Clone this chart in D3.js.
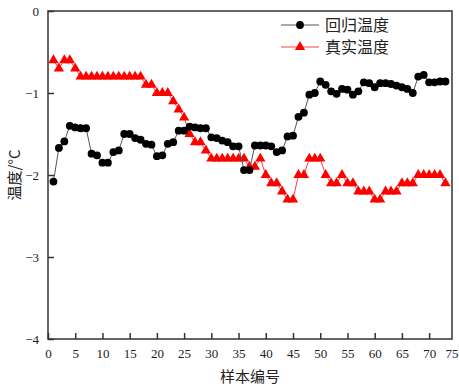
<!DOCTYPE html>
<html>
<head>
  <meta charset="utf-8">
  <title>回归温度与真实温度</title>
  <style>
    body { margin: 0; background: #fff; }
    text { font-family: "Liberation Serif", "Noto Sans CJK SC", serif; }
    .cjk { font-family: "Noto Sans CJK SC", sans-serif; }
  </style>
  <script src="https://d3js.org/d3.v7.min.js"></script>
</head>
<body>
  <div id="chart"></div>
  <script>
    // sample numbers 1..73
    const samples = d3.range(1, 74);
    // regression temperature (black circles)
    const regTemp = [
      -2.08, -1.67, -1.59, -1.40, -1.42, -1.43, -1.43, -1.74, -1.76, -1.85,
      -1.85, -1.72, -1.70, -1.50, -1.50, -1.55, -1.57, -1.62, -1.63, -1.77,
      -1.76, -1.62, -1.60, -1.46, -1.46, -1.41, -1.42, -1.43, -1.43, -1.54,
      -1.55, -1.58, -1.60, -1.65, -1.65, -1.94, -1.94, -1.64, -1.64, -1.64,
      -1.65, -1.72, -1.70, -1.53, -1.52, -1.29, -1.24, -1.02, -1.00, -0.86,
      -0.90, -0.98, -1.01, -0.95, -0.96, -1.02, -0.98, -0.87, -0.88, -0.93,
      -0.88, -0.88, -0.89, -0.91, -0.93, -0.95, -1.00, -0.80, -0.78, -0.87,
      -0.87, -0.86, -0.86
    ];
    // measured temperature (red triangles)
    const realTemp = [
      -0.6, -0.7, -0.6, -0.6, -0.7, -0.8, -0.8, -0.8, -0.8, -0.8,
      -0.8, -0.8, -0.8, -0.8, -0.8, -0.8, -0.8, -0.9, -0.9, -1.0,
      -1.0, -1.0, -1.1, -1.2, -1.3, -1.5, -1.6, -1.6, -1.7, -1.8,
      -1.8, -1.8, -1.8, -1.8, -1.8, -1.8, -1.9, -1.9, -1.8, -2.0,
      -2.1, -2.1, -2.2, -2.3, -2.3, -2.0, -2.0, -1.8, -1.8, -1.8,
      -2.0, -2.1, -2.1, -2.0, -2.1, -2.1, -2.2, -2.2, -2.2, -2.3,
      -2.3, -2.2, -2.2, -2.2, -2.1, -2.1, -2.1, -2.0, -2.0, -2.0,
      -2.0, -2.0, -2.1
    ];
    const xTicks = [0, 5, 10, 15, 20, 25, 30, 35, 40, 45, 50, 55, 60, 65, 70, 75];
    const yTicks = [-4, -3, -2, -1, 0];
    const seriesNames = ["回归温度", "真实温度"];

    const width = 459, height = 387;
    const margin = { top: 11, right: 7, bottom: 48, left: 48 };
    const axisColor = "#333";
    const xMax = 74.2; // frame ends just before 75

    const svg = d3.select("#chart").append("svg")
      .attr("width", width)
      .attr("height", height);

    const x = d3.scaleLinear().domain([0, xMax]).range([margin.left, width - margin.right]);
    const y = d3.scaleLinear().domain([-4, 0]).range([height - margin.bottom, margin.top]);

    // frame around the plot
    svg.append("rect")
      .attr("x", x(0)).attr("y", y(0))
      .attr("width", x(xMax) - x(0)).attr("height", y(-4) - y(0))
      .attr("fill", "none").attr("stroke", axisColor).attr("stroke-width", 1.5);

    // x axis, ticks pointing inward
    const xAxis = svg.append("g")
      .attr("transform", `translate(0,${y(-4)})`)
      .call(d3.axisBottom(x).tickValues(xTicks).tickSize(-6).tickPadding(10).tickFormat(d3.format("d")));
    xAxis.select(".domain").remove();
    xAxis.selectAll(".tick line").attr("stroke", axisColor).attr("stroke-width", 1.5)
      .filter(d => d > xMax).remove();
    xAxis.selectAll(".tick text").attr("font-size", 13).attr("fill", "#222")
      .attr("font-family", "Liberation Serif");
    // last label sits at the page edge, keep it inside
    xAxis.selectAll(".tick text").filter(d => d > xMax)
      .attr("text-anchor", "end").attr("x", width - 1 - x(75));

    // y axis
    const yAxis = svg.append("g")
      .attr("transform", `translate(${x(0)},0)`)
      .call(d3.axisLeft(y).tickValues(yTicks).tickSize(-6).tickPadding(9).tickFormat(d3.format("d")));
    yAxis.select(".domain").remove();
    yAxis.selectAll(".tick line").attr("stroke", axisColor).attr("stroke-width", 1.5);
    yAxis.selectAll(".tick text").attr("font-size", 13).attr("fill", "#222")
      .attr("font-family", "Liberation Serif");

    // axis titles
    svg.append("text")
      .attr("class", "cjk")
      .attr("x", (x(0) + x(xMax)) / 2).attr("y", 382)
      .attr("text-anchor", "middle").attr("font-size", 15).attr("fill", "#222")
      .text("样本编号");
    svg.append("text")
      .attr("class", "cjk")
      .attr("transform", `translate(20,${y(-2)}) rotate(-90)`)
      .attr("text-anchor", "middle").attr("font-size", 15).attr("fill", "#222")
      .text("温度/°C");

    const line = d3.line().x((d, i) => x(samples[i])).y(d => y(d));
    const tri = d3.symbol().type(d3.symbolTriangle).size(46);

    // red series first (black drawn on top)
    svg.append("path").datum(realTemp)
      .attr("d", line).attr("fill", "none").attr("stroke", "#ff4040").attr("stroke-width", 1);
    svg.append("g").selectAll("path").data(realTemp).join("path")
      .attr("d", tri)
      .attr("transform", (d, i) => `translate(${x(samples[i])},${y(d)})`)
      .attr("fill", "#ff0000");

    svg.append("path").datum(regTemp)
      .attr("d", line).attr("fill", "none").attr("stroke", "#555").attr("stroke-width", 1);
    svg.append("g").selectAll("circle").data(regTemp).join("circle")
      .attr("cx", (d, i) => x(samples[i]))
      .attr("cy", d => y(d))
      .attr("r", 3.9)
      .attr("fill", "#000");

    // legend
    const legend = svg.append("g").attr("transform", "translate(281,25)");
    const lg = legend.selectAll("g").data(seriesNames).join("g")
      .attr("transform", (d, i) => `translate(0,${i * 22})`);
    lg.append("line")
      .attr("x1", 0).attr("x2", 38).attr("y1", 0).attr("y2", 0)
      .attr("stroke", (d, i) => i === 0 ? "#555" : "#ff4040").attr("stroke-width", 1);
    lg.filter((d, i) => i === 0).append("circle")
      .attr("cx", 19).attr("cy", 0).attr("r", 3.9).attr("fill", "#000");
    lg.filter((d, i) => i === 1).append("path")
      .attr("d", tri).attr("transform", "translate(19,0)").attr("fill", "#ff0000");
    lg.append("text")
      .attr("class", "cjk")
      .attr("x", 44).attr("y", 0).attr("dy", "0.35em")
      .attr("font-size", 16).attr("fill", "#222")
      .text(d => d);
  </script>
</body>
</html>
